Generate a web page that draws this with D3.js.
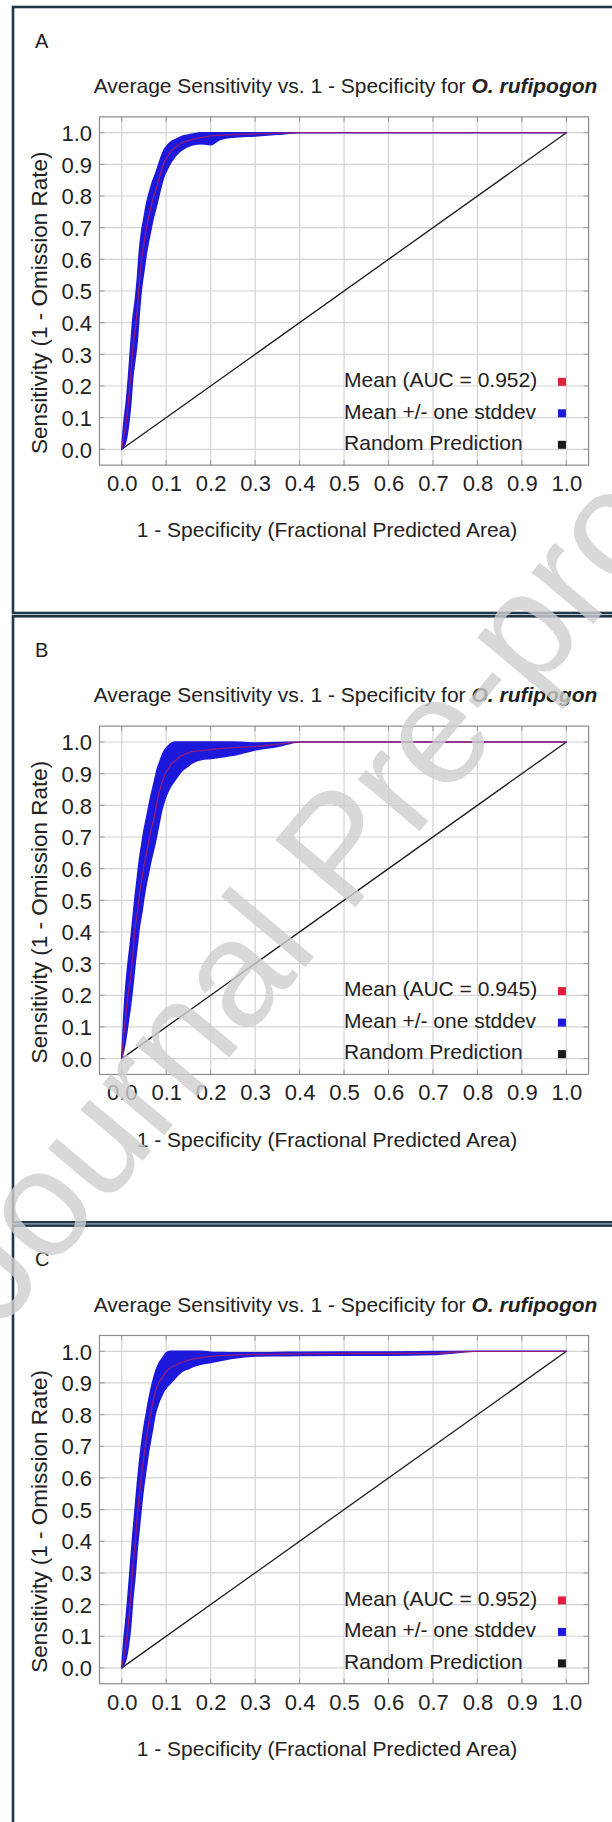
<!DOCTYPE html>
<html><head><meta charset="utf-8">
<script src="https://cdn.jsdelivr.net/npm/d3@7"></script>
<style>
html,body{margin:0;padding:0;background:#fff}
svg{display:block}
text{font-family:"Liberation Sans",Arial,Helvetica,sans-serif;fill:#222}
</style></head>
<body><svg id="chart" width="612" height="1822"></svg>
<script>
// ---------------- data ----------------
const panelLetters = ["A", "B", "C"];
const aucValues = ["0.952", "0.945", "0.952"];
const tickValues = [0, 0.1, 0.2, 0.3, 0.4, 0.5, 0.6, 0.7, 0.8, 0.9, 1.0];
const tickLabels = ["0.0", "0.1", "0.2", "0.3", "0.4", "0.5", "0.6", "0.7", "0.8", "0.9", "1.0"];
const titleText = "Average Sensitivity vs. 1 - Specificity for ";
const speciesText = "O. rufipogon";
const xTitle = "1 - Specificity (Fractional Predicted Area)";
const yTitle = "Sensitivity (1 - Omission Rate)";
const legendNames = ["Mean (AUC = ", "Mean +/- one stddev", "Random Prediction"];
const randomLine = [[0, 0], [1, 1]];
const watermark = "Journal Pre-proof";

// 1 - specificity sample points
const fpr = [0, 0.005, 0.01, 0.015, 0.02, 0.025, 0.03, 0.035, 0.04, 0.045,
  0.05, 0.055, 0.06, 0.065, 0.07, 0.075, 0.08, 0.085, 0.09, 0.095,
  0.1, 0.11, 0.12, 0.13, 0.14, 0.15, 0.16, 0.18, 0.2, 0.22,
  0.25, 0.3, 0.35, 0.4, 0.5, 0.6, 0.7, 0.8, 0.9, 1.0];

// Panel A
const meanA = [0, .045, .086, .15, .23, .32, .375, .44, .535, .605,
  .65, .695, .73, .76, .79, .812, .835, .86, .884, .905,
  .918, .94, .953, .963, .97, .975, .979, .985, .99, .992,
  .994, .996, .998, 1, 1, 1, 1, 1, 1, 1];
const upperA = [0, .085, .145, .225, .32, .41, .465, .535, .63, .69,
  .73, .77, .8, .825, .848, .866, .886, .908, .928, .945,
  .955, .97, .978, .985, .99, .993, .996, 1, 1, 1,
  1, 1, 1, 1, 1, 1, 1, 1, 1, 1];
const lowerA = [0, .008, .03, .075, .14, .23, .285, .345, .44, .515,
  .565, .615, .655, .69, .725, .752, .78, .81, .838, .862,
  .878, .905, .925, .94, .95, .957, .962, .965, .962, .978,
  .986, .99, .995, 1, 1, 1, 1, 1, 1, 1];

// Panel B
const meanB = [0, .08, .15, .21, .26, .33, .41, .46, .52, .565,
  .61, .645, .68, .717, .745, .775, .815, .845, .87, .89,
  .905, .928, .94, .953, .96, .965, .97, .973, .976, .979,
  .982, .986, .993, 1, 1, 1, 1, 1, 1, 1];
const upperB = [0, .14, .24, .31, .37, .44, .51, .57, .63, .675,
  .72, .755, .79, .825, .855, .885, .915, .935, .955, .97,
  .98, .995, 1, 1, 1, 1, 1, 1, 1, 1,
  1, .997, .998, 1, 1, 1, 1, 1, 1, 1];
const lowerB = [0, .03, .07, .12, .17, .23, .30, .36, .42, .46,
  .51, .55, .585, .62, .65, .68, .715, .75, .785, .81,
  .83, .86, .88, .9, .915, .925, .935, .945, .948, .952,
  .958, .975, .986, 1, 1, 1, 1, 1, 1, 1];

// Panel C
const meanC = [0, .04, .08, .14, .22, .32, .39, .48, .55, .615,
  .67, .72, .765, .805, .84, .87, .89, .905, .915, .925,
  .935, .948, .955, .962, .967, .972, .976, .98, .984, .986,
  .988, .99, .991, .992, .993, .993, .994, 1, 1, 1];
const upperC = [0, .09, .16, .24, .33, .42, .5, .58, .65, .71,
  .76, .8, .84, .875, .905, .93, .95, .965, .975, .985,
  .995, 1, 1, 1, 1, 1, 1, 1, .997, .996,
  .995, .995, .996, .997, .998, .998, .999, 1, 1, 1];
const lowerC = [0, .01, .03, .07, .13, .22, .29, .38, .45, .52,
  .58, .63, .68, .72, .76, .8, .825, .845, .86, .875,
  .885, .9, .915, .93, .94, .945, .952, .96, .965, .97,
  .978, .985, .986, .987, .988, .988, .99, 1, 1, 1];

const meanSeries = [meanA, meanB, meanC];
const upperSeries = [upperA, upperB, upperC];
const lowerSeries = [lowerA, lowerB, lowerC];

// ---------------- drawing ----------------
const svg = d3.select("#chart");
const panelStep = 609.3;
const colors = {band: "#1c18dc", mean: "#e0203a", random: "#1a1a1a",
  grid: "#d4d4d4", frame: "#8c8c8c", border: "#22364a"};
const FS = 21;

panelLetters.forEach((letter, p) => {
  const off = p * panelStep;
  const g = svg.append("g");

  // panel border
  g.append("rect").attr("x", 13).attr("y", 7 + off).attr("width", 640).attr("height", 606)
    .attr("fill", "#fff").attr("stroke", colors.border).attr("stroke-width", 2.6);

  const x = d3.scaleLinear().domain([-0.05, 1.05]).range([99.5, 588.6]);
  const y0 = 449.3 + off;
  const y = d3.scaleLinear().domain([-0.05, 1.05]).range([y0 + 15.83, y0 - 1.05 * 316.6]);

  // letter + title
  g.append("text").attr("x", 35).attr("y", 40.5 + off).attr("dy", "0.35em")
    .attr("font-size", 20).text(letter);
  const t = g.append("text").attr("x", 93.7).attr("y", 85.6 + off).attr("dy", "0.35em")
    .attr("font-size", FS);
  t.append("tspan").text(titleText);
  t.append("tspan").attr("font-weight", "bold").attr("font-style", "italic").text(speciesText);

  // grid
  const grid = g.append("g").attr("stroke", colors.grid).attr("stroke-width", 1.2);
  tickValues.forEach(v => {
    grid.append("line").attr("x1", x(v)).attr("x2", x(v)).attr("y1", y(1.05)).attr("y2", y(-0.05));
    grid.append("line").attr("y1", y(v)).attr("y2", y(v)).attr("x1", x(-0.05)).attr("x2", x(1.05));
  });

  // small inner ticks on the frame
  const tk = g.append("g").attr("stroke", "#9a9a9a").attr("stroke-width", 1);
  tickValues.forEach(v => {
    tk.append("line").attr("x1", x(v)).attr("x2", x(v)).attr("y1", y(-0.05)).attr("y2", y(-0.05) - 5);
    tk.append("line").attr("x1", x(v)).attr("x2", x(v)).attr("y1", y(1.05)).attr("y2", y(1.05) + 5);
    tk.append("line").attr("y1", y(v)).attr("y2", y(v)).attr("x1", x(-0.05)).attr("x2", x(-0.05) + 5);
    tk.append("line").attr("y1", y(v)).attr("y2", y(v)).attr("x1", x(1.05)).attr("x2", x(1.05) - 5);
  });

  // frame
  g.append("rect").attr("x", x(-0.05)).attr("y", y(1.05))
    .attr("width", x(1.05) - x(-0.05)).attr("height", y(-0.05) - y(1.05))
    .attr("fill", "none").attr("stroke", colors.frame).attr("stroke-width", 1.2);

  // axes (labels only)
  const xAxis = d3.axisBottom(x).tickValues(tickValues).tickFormat((d, i) => tickLabels[i])
    .tickSize(0).tickPadding(0);
  const xa = g.append("g").attr("transform", `translate(0,${y0 + 34})`).call(xAxis);
  xa.select(".domain").remove();
  xa.selectAll("text").attr("y", 0).attr("dy", "0.35em").attr("font-size", 22)
    .attr("font-family", null).style("fill", "#222");

  const yAxis = d3.axisLeft(y).tickValues(tickValues).tickFormat((d, i) => tickLabels[i])
    .tickSize(0).tickPadding(0);
  const ya = g.append("g").attr("transform", `translate(92,0)`).call(yAxis);
  ya.select(".domain").remove();
  ya.selectAll("text").attr("x", 0).attr("dy", "0.35em").attr("font-size", 22)
    .attr("font-family", null).style("fill", "#222");

  // axis titles
  g.append("text").attr("x", 327).attr("y", y0 + 80.7).attr("dy", "0.35em")
    .attr("text-anchor", "middle").attr("font-size", FS).text(xTitle);
  g.append("text").attr("transform", `translate(39,${y0 - 146.5}) rotate(-90)`)
    .attr("dy", "0.35em").attr("text-anchor", "middle").attr("font-size", 22.5).text(yTitle);

  // random prediction
  g.append("path").datum(randomLine)
    .attr("d", d3.line().x(d => x(d[0])).y(d => y(d[1])))
    .attr("fill", "none").attr("stroke", colors.random).attr("stroke-width", 1.3);

  // stddev band
  const idx = d3.range(fpr.length);
  const up = upperSeries[p], lo = lowerSeries[p], mn = meanSeries[p];
  g.append("path").datum(idx)
    .attr("d", d3.area().x(i => x(fpr[i])).y0(i => y(lo[i])).y1(i => y(up[i])).curve(d3.curveMonotoneX))
    .attr("fill", colors.band).attr("stroke", colors.band).attr("stroke-width", 1.6)
    .attr("stroke-linejoin", "round");

  // mean line
  g.append("path").datum(idx)
    .attr("d", d3.line().x(i => x(fpr[i])).y(i => y(mn[i])).curve(d3.curveMonotoneX))
    .attr("fill", "none").attr("stroke", colors.mean).attr("stroke-width", 1.3).attr("opacity", 0.6);

  // legend
  const legColors = [colors.mean, colors.band, colors.random];
  const legOffsets = [-69.5, -38, -6.5];
  legendNames.forEach((name, k) => {
    const ly = y0 + legOffsets[k];
    g.append("text").attr("x", x(0.5)).attr("y", ly).attr("dy", "0.35em").attr("font-size", FS)
      .text(k === 0 ? name + aucValues[p] + ")" : name);
    g.append("rect").attr("x", x(0.99) - 4).attr("y", ly - 2).attr("width", 8).attr("height", 8)
      .attr("fill", legColors[k]);
  });
});

// watermark
svg.append("text").attr("transform", "translate(0,1331) rotate(-50)")
  .attr("font-size", 152).style("fill", "#cfcfcf").attr("opacity", 0.8)
  .text(watermark);
</script>
</body></html>
